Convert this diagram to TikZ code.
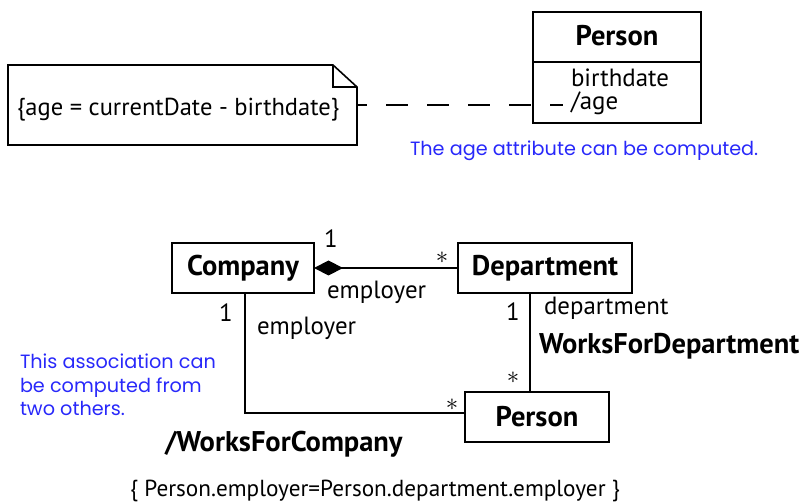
\documentclass[tikz,border=0pt]{standalone}
\usepackage{fontspec}
\setmainfont{PT Sans}
\newfontfamily\notefont{Poppins}
\usetikzlibrary{arrows.meta}
\definecolor{noteblue}{RGB}{40,40,250}
\begin{document}
\begin{tikzpicture}[x=1bp,y=-1bp,
  every node/.style={inner sep=0pt, outer sep=0pt, font=\fontsize{25}{28}\selectfont},
  umlbox/.style={draw, line width=2bp, minimum height=50bp},
  title/.style={font=\fontsize{28.6}{32}\selectfont\bfseries},
  remark/.style={text=noteblue, align=left, font=\fontsize{19.3}{23.5}\selectfont\notefont},
  link/.style={line width=2bp},
  mult/.style={font=\fontsize{26}{28}\selectfont}]
\useasboundingbox (0,0) rectangle (804,503);

% ---- derived attribute ----
\node[minimum width=349bp, minimum height=80bp] (note) at (182.5,105) {};
\draw[line width=1.6bp]
  (note.north west) -- ([xshift=-24bp]note.north east) -- ([yshift=-22bp]note.north east)
  -- (note.south east) -- (note.south west) -- cycle;
\draw[line width=1.2bp]
  ([xshift=-24bp]note.north east) |- ([yshift=-22bp]note.north east);
\node[anchor=west, font=\fontsize{24.6}{28}\selectfont] (notetext) at (17,110) {\{age = currentDate - birthdate\}};

\node[umlbox, minimum width=168bp] (ptitle) at (617,37) {};
\node[title] (ptitlet) at (617,36) {Person};
\node[umlbox, minimum width=168bp, minimum height=61bp, anchor=north] (pattr) at (ptitle.south) {};
\node[anchor=west, align=left, font=\fontsize{25}{23.5}\selectfont] (attrs) at (571,92) {birthdate\\/age};

\coordinate (agemark) at (563,105);
\draw[line width=2bp, dash pattern=on 22bp off 19bp, dash phase=12bp]
  (note.east |- agemark) -- (agemark);

\node[remark, anchor=west] (remark1) at (410,151) {The age attribute can be computed.};

% ---- derived association ----
\node[umlbox, minimum width=142bp, title] (company) at (243,268) {Company};
\node[umlbox, minimum width=174bp, title] (dept) at (545,268) {Department};
\node[umlbox, minimum width=144bp, title] (person) at (537,417) {Person};

\draw[link, {Diamond[length=29bp,width=15bp]}-] (company.east) -- (dept.west);
\draw[link] ([xshift=2bp]company.south) |- ([yshift=4bp]person.west);
\draw[link] ([xshift=-7bp]person.north) -- ([xshift=-7bp]person.north |- dept.south);

\node (m1) at (331,239) {1};
\node[mult] (ms1) at (442,258) {$*$};
\node[anchor=west] (role1) at (327,292) {employer};

\node (m2) at (226,313) {1};
\node[anchor=west] (role2) at (257,328) {employer};

\node (m3) at (513,312) {1};
\node[anchor=west] (role3) at (544,308) {department};
\node[title, anchor=west] (wfd) at (539,346) {WorksForDepartment};
\node[mult] (ms2) at (513,378) {$*$};
\node[mult] (ms3) at (452,405) {$*$};
\node[title, anchor=west] (wfc) at (165,444) {/WorksForCompany};

\node[remark, anchor=north west] (remark2) at (20,354) {This association can\\be computed from\\two others.};

\node[font=\fontsize{23.3}{26}\selectfont] (constraint) at (375,491) {\{ Person.employer=Person.department.employer \}};
\end{tikzpicture}
\end{document}
